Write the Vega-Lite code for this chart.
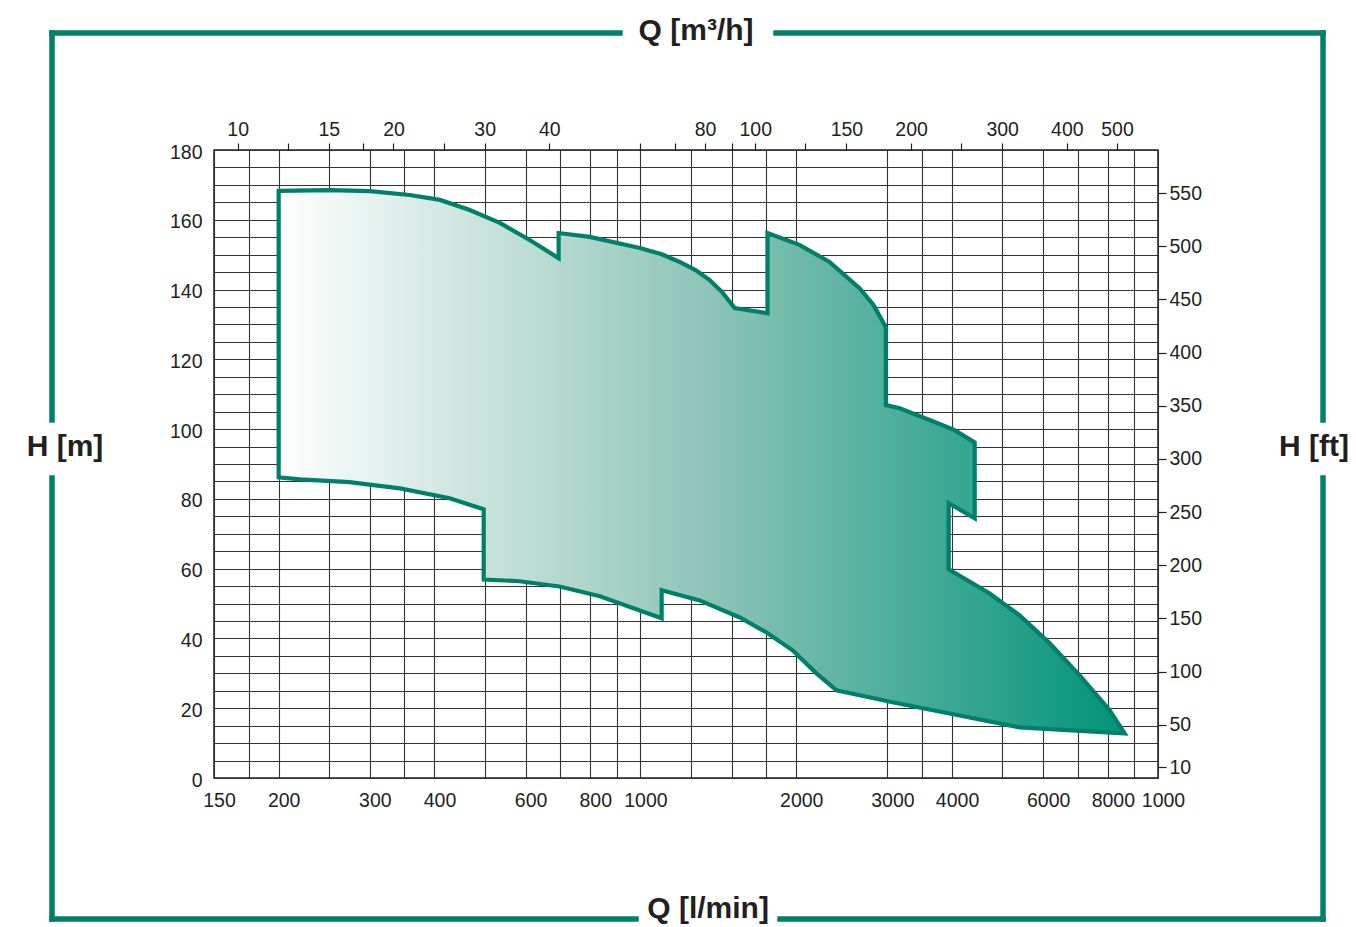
{
  "$schema": "https://vega.github.io/schema/vega-lite/v6.json",
  "autosize": {"type": "none"},
  "width": 944,
  "height": 628,
  "padding": {"left": 214, "top": 150, "right": 198, "bottom": 149},
  "background": "#ffffff",
  "config": {
    "font": "Liberation Sans",
    "view": {"stroke": "#231f20", "strokeWidth": 1.5},
    "axis": {"labelFont": "Liberation Sans", "labelFontSize": 19.5, "labelColor": "#231f20"}
  },
  "datasets": {
    "shape": [
      {"o": 1, "q": 200, "h": 168.3},
      {"o": 2, "q": 251, "h": 168.5},
      {"o": 3, "q": 300, "h": 168.2},
      {"o": 4, "q": 358, "h": 167.1},
      {"o": 5, "q": 410, "h": 165.7},
      {"o": 6, "q": 468, "h": 162.8},
      {"o": 7, "q": 535, "h": 159.1},
      {"o": 8, "q": 611, "h": 154.2},
      {"o": 9, "q": 695, "h": 149.0},
      {"o": 10, "q": 695, "h": 156.2},
      {"o": 11, "q": 798, "h": 155.1},
      {"o": 12, "q": 997, "h": 151.9},
      {"o": 13, "q": 1100, "h": 150.1},
      {"o": 14, "q": 1191, "h": 147.9},
      {"o": 15, "q": 1280, "h": 145.5},
      {"o": 16, "q": 1361, "h": 142.7},
      {"o": 17, "q": 1440, "h": 139.2},
      {"o": 18, "q": 1521, "h": 134.7},
      {"o": 19, "q": 1760, "h": 133.2},
      {"o": 20, "q": 1760, "h": 156.2},
      {"o": 21, "q": 2029, "h": 152.8},
      {"o": 22, "q": 2319, "h": 147.9},
      {"o": 23, "q": 2650, "h": 140.4},
      {"o": 24, "q": 2820, "h": 135.6},
      {"o": 25, "q": 2980, "h": 129.2},
      {"o": 26, "q": 2980, "h": 106.9},
      {"o": 27, "q": 3168, "h": 106.0},
      {"o": 28, "q": 3621, "h": 102.6},
      {"o": 29, "q": 4047, "h": 99.7},
      {"o": 30, "q": 4424, "h": 96.2},
      {"o": 31, "q": 4424, "h": 74.4},
      {"o": 32, "q": 3941, "h": 78.8},
      {"o": 33, "q": 3941, "h": 59.8},
      {"o": 34, "q": 4728, "h": 52.9},
      {"o": 35, "q": 5404, "h": 46.6},
      {"o": 36, "q": 6176, "h": 38.6},
      {"o": 37, "q": 7058, "h": 29.4},
      {"o": 38, "q": 8064, "h": 19.4},
      {"o": 39, "q": 8619, "h": 12.8},
      {"o": 40, "q": 5404, "h": 14.5},
      {"o": 41, "q": 4137, "h": 17.9},
      {"o": 42, "q": 3069, "h": 21.7},
      {"o": 43, "q": 2393, "h": 25.1},
      {"o": 44, "q": 2188, "h": 30.0},
      {"o": 45, "q": 1968, "h": 36.6},
      {"o": 46, "q": 1753, "h": 41.7},
      {"o": 47, "q": 1556, "h": 46.0},
      {"o": 48, "q": 1302, "h": 50.9},
      {"o": 49, "q": 1099, "h": 53.8},
      {"o": 50, "q": 1099, "h": 45.8},
      {"o": 51, "q": 997, "h": 48.0},
      {"o": 52, "q": 835, "h": 52.1},
      {"o": 53, "q": 698, "h": 54.9},
      {"o": 54, "q": 584, "h": 56.4},
      {"o": 55, "q": 498, "h": 56.9},
      {"o": 56, "q": 498, "h": 77.0},
      {"o": 57, "q": 428, "h": 80.2},
      {"o": 58, "q": 343, "h": 83.0},
      {"o": 59, "q": 274, "h": 84.8},
      {"o": 60, "q": 220, "h": 85.6},
      {"o": 61, "q": 200, "h": 86.2}
    ],
    "frame": [
      {"q": 72.96, "q2": 913, "h": 213.5, "h2": 213.5},
      {"q": 1828, "q2": 20836, "h": 213.5, "h2": 213.5},
      {"q": 72.96, "q2": 980.5, "h": -40.4, "h2": -40.4},
      {"q": 1861, "q2": 20836, "h": -40.4, "h2": -40.4},
      {"q": 72.96, "q2": 72.96, "h": 213.5, "h2": 102.6},
      {"q": 72.96, "q2": 72.96, "h": 86.0, "h2": -40.4},
      {"q": 20836, "q2": 20836, "h": 213.5, "h2": 102.6},
      {"q": 20836, "q2": 20836, "h": 86.0, "h2": -40.4}
    ],
    "titles": [
      {"t": "Q [m³/h]", "q": 1281, "h": 214.1},
      {"t": "Q [l/min]", "q": 1351, "h": -37.6},
      {"t": "H [m]", "q": 77.3, "h": 94.9},
      {"t": "H [ft]", "q": 20010, "h": 94.9}
    ],
    "axes2": [
      {"m3h": 9, "ft": 0},
      {"m3h": 600, "ft": 590.55}
    ]
  },
  "layer": [
    {
      "data": {"name": "shape"},
      "mark": {
        "type": "line",
        "interpolate": "linear-closed",
        "fill": {
          "gradient": "linear", "x1": 0, "y1": 0, "x2": 1, "y2": 0,
          "stops": [
            {"offset": 0, "color": "#ffffff"},
            {"offset": 0.5, "color": "#8fc5b8"},
            {"offset": 1, "color": "#00937a"}
          ]
        },
        "stroke": "#00806a",
        "strokeWidth": 4.2,
        "strokeJoin": "miter"
      },
      "encoding": {
        "x": {
          "field": "q", "type": "quantitative",
          "scale": {"type": "log", "domain": [150, 10000], "nice": false},
          "axis": {
            "orient": "bottom",
            "title": null,
            "values": [150, 175, 200, 250, 300, 350, 400, 500, 600, 700, 800, 900, 1000, 1250, 1500, 1750, 2000, 3000, 3500, 4000, 5000, 6000, 7000, 8000, 9000, 10000],
            "labelExpr": "datum.value == 10000 ? '1000' : (indexof([150, 200, 300, 400, 600, 800, 1000, 2000, 3000, 4000, 6000, 8000], datum.value) >= 0 ? format(datum.value, 'd') : '')",
            "ticks": false, "tickSize": 0, "domain": false,
            "labelPadding": 13, "labelOffset": 5, "labelFlush": false, "labelOverlap": false,
            "grid": true, "gridColor": "#333333", "gridWidth": 1.1, "gridOpacity": 1
          }
        },
        "y": {
          "field": "h", "type": "quantitative",
          "scale": {"domain": [0, 180], "nice": false, "zero": false},
          "axis": {
            "orient": "left",
            "title": null,
            "values": [0, 5, 10, 15, 20, 25, 30, 35, 40, 45, 50, 55, 60, 65, 70, 75, 80, 85, 90, 95, 100, 105, 110, 115, 120, 125, 130, 135, 140, 145, 150, 155, 160, 165, 170, 175, 180],
            "labelExpr": "datum.value % 20 == 0 ? format(datum.value, 'd') : ''",
            "ticks": false, "tickSize": 0, "domain": false,
            "labelPadding": 12, "labelOffset": 2, "labelFlush": false, "labelOverlap": false,
            "grid": true, "gridColor": "#333333", "gridWidth": 1.1, "gridOpacity": 1
          }
        },
        "order": {"field": "o", "type": "quantitative"}
      }
    },
    {
      "data": {"name": "frame"},
      "mark": {"type": "rule", "color": "#00806a", "strokeWidth": 5.5, "strokeCap": "square"},
      "encoding": {
        "x": {"field": "q", "type": "quantitative", "scale": {"type": "log", "domain": [150, 10000], "nice": false}, "axis": null},
        "x2": {"field": "q2"},
        "y": {"field": "h", "type": "quantitative", "scale": {"domain": [0, 180], "nice": false, "zero": false}, "axis": null},
        "y2": {"field": "h2"}
      }
    },
    {
      "data": {"name": "titles"},
      "mark": {"type": "text", "font": "Liberation Sans", "fontSize": 30, "fontWeight": "bold", "color": "#231f20", "align": "center", "baseline": "middle"},
      "encoding": {
        "x": {"field": "q", "type": "quantitative", "scale": {"type": "log", "domain": [150, 10000], "nice": false}, "axis": null},
        "y": {"field": "h", "type": "quantitative", "scale": {"domain": [0, 180], "nice": false, "zero": false}, "axis": null},
        "text": {"field": "t"}
      }
    },
    {
      "data": {"name": "axes2"},
      "mark": {"type": "point", "opacity": 0},
      "encoding": {
        "x": {
          "field": "m3h", "type": "quantitative",
          "scale": {"type": "log", "domain": [9, 600], "nice": false},
          "axis": {
            "orient": "top", "title": null,
            "values": [10, 12.5, 15, 17.5, 20, 25, 30, 40, 60, 70, 80, 90, 100, 125, 150, 200, 250, 300, 400, 500],
            "labelExpr": "indexof([10, 15, 20, 30, 40, 80, 100, 150, 200, 300, 400, 500], datum.value) >= 0 ? format(datum.value, 'd') : ''",
            "grid": false, "domain": false, "ticks": true, "tickSize": 7, "tickColor": "#231f20", "tickWidth": 1.2,
            "labelPadding": 4, "labelFlush": false, "labelOverlap": false
          }
        },
        "y": {
          "field": "ft", "type": "quantitative",
          "scale": {"domain": [0, 590.55], "nice": false, "zero": false},
          "axis": {
            "orient": "right", "title": null,
            "values": [10, 50, 100, 150, 200, 250, 300, 350, 400, 450, 500, 550],
            "grid": false, "domain": false, "ticks": true, "tickSize": 8, "tickColor": "#231f20", "tickWidth": 1.2,
            "labelPadding": 3, "labelFlush": false, "labelOverlap": false
          }
        }
      }
    }
  ],
  "resolve": {"scale": {"x": "independent", "y": "independent"}}
}
